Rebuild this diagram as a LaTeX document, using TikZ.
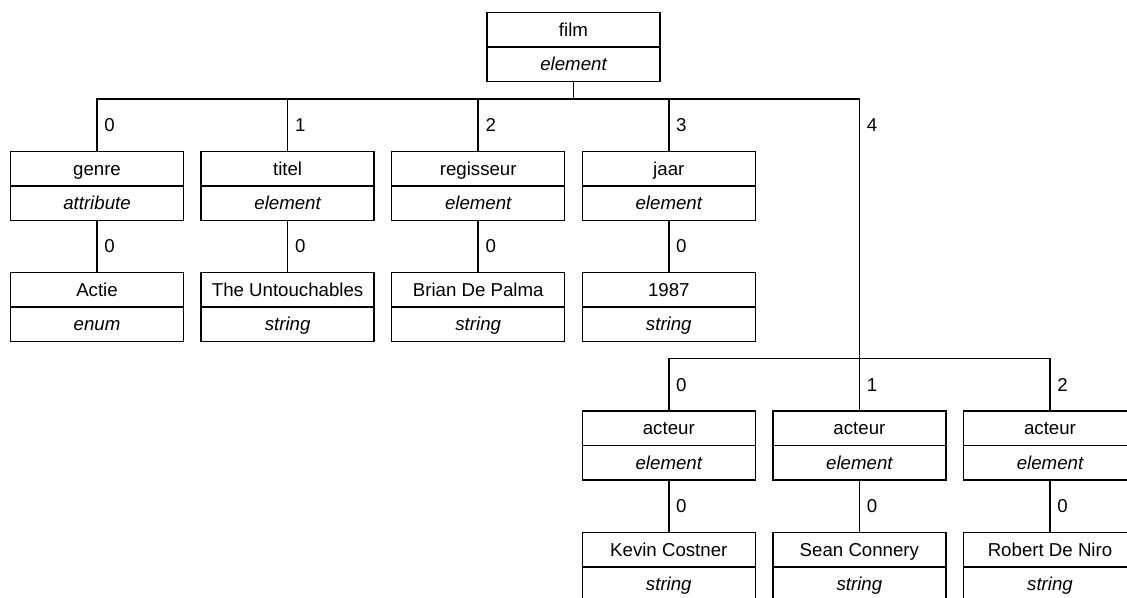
\documentclass[tikz,border=0pt]{standalone}
\usepackage{fontspec}
\setmainfont{Liberation Sans}
\usetikzlibrary{positioning}

\begin{document}
\begin{tikzpicture}[x=0.75pt,y=-0.75pt,line width=1.1pt,
  name box/.style={draw,minimum width=129.75pt,minimum height=25.8pt,inner sep=0pt,outer sep=0pt,text height=11.5pt,text depth=1.5pt,font=\fontsize{14}{16}\selectfont},
  type box/.style={name box,font=\fontsize{14}{16}\selectfont\itshape},
  num/.style={right,inner sep=5pt,font=\fontsize{14}{16}\selectfont}]
  \useasboundingbox (0,0) rectangle (1127,597);
  \clip (0,0) rectangle (1127,597);

  % root
  \node[name box] (film) at (573.5,29.9) {film};
  \node[type box,below=0pt of film] (film t) {element};

  % children of film
  \node[name box] (genre) at (97,168.7) {genre};
  \node[type box,below=0pt of genre] (genre t) {attribute};
  \node[name box] (titel) at (287.6,168.7) {titel};
  \node[type box,below=0pt of titel] (titel t) {element};
  \node[name box] (regisseur) at (478.2,168.7) {regisseur};
  \node[type box,below=0pt of regisseur] (regisseur t) {element};
  \node[name box] (jaar) at (668.8,168.7) {jaar};
  \node[type box,below=0pt of jaar] (jaar t) {element};

  % values
  \node[name box] (actie) at (97,289.9) {Actie};
  \node[type box,below=0pt of actie] (actie t) {enum};
  \node[name box] (untouchables) at (287.6,289.9) {The Untouchables};
  \node[type box,below=0pt of untouchables] (untouchables t) {string};
  \node[name box] (palma) at (478.2,289.9) {Brian De Palma};
  \node[type box,below=0pt of palma] (palma t) {string};
  \node[name box] (year) at (668.8,289.9) {1987};
  \node[type box,below=0pt of year] (year t) {string};

  % actors
  \node[name box] (acteur0) at (668.8,428.2) {acteur};
  \node[type box,below=0pt of acteur0] (acteur0 t) {element};
  \node[name box] (acteur1) at (859.4,428.2) {acteur};
  \node[type box,below=0pt of acteur1] (acteur1 t) {element};
  \node[name box] (acteur2) at (1050,428.2) {acteur};
  \node[type box,below=0pt of acteur2] (acteur2 t) {element};

  \node[name box] (costner) at (668.8,549.9) {Kevin Costner};
  \node[type box,below=0pt of costner] (costner t) {string};
  \node[name box] (connery) at (859.4,549.9) {Sean Connery};
  \node[type box,below=0pt of connery] (connery t) {string};
  \node[name box] (deniro) at (1050,549.9) {Robert De Niro};
  \node[type box,below=0pt of deniro] (deniro t) {string};

  \coordinate (split) at (859.4,358.7);

  \draw (film t.south) -- ++(0,17.7) coordinate (bus);
  \draw (bus) -| node[num,pos=0.75]{0} (genre.north);
  \draw (bus) -| node[num,pos=0.75]{1} (titel.north);
  \draw (bus) -| node[num,pos=0.75]{2} (regisseur.north);
  \draw (bus) -| node[num,pos=0.75]{3} (jaar.north);
  \draw (bus) -| node[num,pos=0.55]{4} (split);

  \draw (genre t) -- node[num]{0} (actie);
  \draw (titel t) -- node[num]{0} (untouchables);
  \draw (regisseur t) -- node[num]{0} (palma);
  \draw (jaar t) -- node[num]{0} (year);

  \draw (split) -| node[num,pos=0.75]{0} (acteur0.north);
  \draw (split) -| node[num,pos=0.75]{1} (acteur1.north);
  \draw (split) -| node[num,pos=0.75]{2} (acteur2.north);

  \draw (acteur0 t) -- node[num]{0} (costner);
  \draw (acteur1 t) -- node[num]{0} (connery);
  \draw (acteur2 t) -- node[num]{0} (deniro);
\end{tikzpicture}
\end{document}
